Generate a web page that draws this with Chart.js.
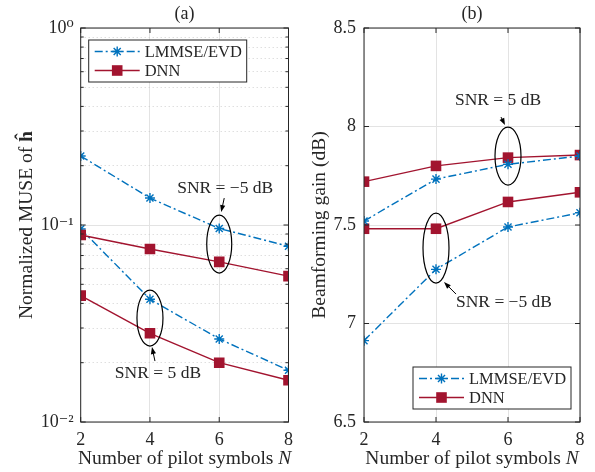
<!DOCTYPE html>
<html>
<head>
<meta charset="utf-8">
<script src="https://cdn.jsdelivr.net/npm/chart.js@4/dist/chart.umd.min.js"></script>
<style>
  body { margin: 0; background: #fff; width: 595px; height: 472px; position: relative; overflow: hidden; }
  canvas { position: absolute; top: 0; }
  #chartA { left: 0; }
  #chartB { left: 300px; }
</style>
</head>
<body>
<canvas id="chartA" width="300" height="472"></canvas>
<canvas id="chartB" width="295" height="472"></canvas>
<script>
"use strict";

// number of pilot symbols N
const pilots = [2, 4, 6, 8];

// (a) normalized MSE
const mseLmmseLow = [0.224, 0.137, 0.096, 0.078];   // SNR = -5 dB
const mseDnnLow = [0.089, 0.0755, 0.065, 0.055];
const mseLmmseHigh = [0.0955, 0.042, 0.0264, 0.0183]; // SNR = 5 dB
const mseDnnHigh = [0.0438, 0.0282, 0.02, 0.0163];

// (b) beamforming gain (dB)
const gainLmmseHigh = [7.52, 7.733, 7.808, 7.85];  // SNR = 5 dB
const gainDnnHigh = [7.72, 7.8, 7.842, 7.855];
const gainLmmseLow = [6.913, 7.275, 7.49, 7.562];  // SNR = -5 dB
const gainDnnLow = [7.481, 7.481, 7.617, 7.666];

const pilotTicks = [2, 4, 6, 8];
const mseMajorTicks = [0.01, 0.1, 1];
const mseMinorTicks = [0.02, 0.03, 0.04, 0.05, 0.06, 0.07, 0.08, 0.09,
                       0.2, 0.3, 0.4, 0.5, 0.6, 0.7, 0.8, 0.9];
const gainTicks = [6.5, 7, 7.5, 8, 8.5];

const BLUE = "#0072BD";
const RED = "#A2142F";
const INK = "#262626";
const GRID = "#e3e3e3";
const SERIF = "'Liberation Serif', 'DejaVu Serif', serif";
const font = { family: SERIF, size: 18 };
const LABEL = "19.5px " + SERIF;

function pts(values) {
  return pilots.map((n, i) => ({ x: n, y: values[i] }));
}

function lmmse(values) {
  return {
    label: "LMMSE/EVD",
    data: pts(values),
    borderColor: BLUE,
    backgroundColor: BLUE,
    borderWidth: 1.4,
    borderDash: [8, 3, 2, 3],
    pointStyle: "star",
    pointRadius: 5,
    pointBorderWidth: 1.4
  };
}

function dnn(values) {
  return {
    label: "DNN",
    data: pts(values),
    borderColor: RED,
    backgroundColor: RED,
    borderWidth: 1.4,
    pointStyle: "rect",
    pointRadius: 7.5,
    pointBorderWidth: 0
  };
}

const SUP = { "-": "\u207B", "0": "\u2070", "1": "\u00B9", "2": "\u00B2" };
function powLabel(v) {
  const e = String(Math.round(Math.log10(v)));
  return "10" + e.split("").map(c => SUP[c]).join("");
}

function drawParts(ctx, parts, x, y, rot) {
  ctx.save();
  ctx.translate(x, y);
  ctx.rotate(rot);
  ctx.fillStyle = INK;
  ctx.textBaseline = "middle";
  ctx.textAlign = "left";
  const widths = parts.map(p => {
    ctx.font = p.font;
    return ctx.measureText(p.text).width;
  });
  let cx = -widths.reduce((a, b) => a + b, 0) / 2;
  parts.forEach((p, i) => {
    ctx.font = p.font;
    ctx.fillText(p.text, cx, 0);
    cx += widths[i];
  });
  ctx.restore();
}

function arrow(ctx, x1, y1, x2, y2) {
  const ang = Math.atan2(y2 - y1, x2 - x1);
  ctx.beginPath();
  ctx.moveTo(x1, y1);
  ctx.lineTo(x2 - 5 * Math.cos(ang), y2 - 5 * Math.sin(ang));
  ctx.stroke();
  ctx.beginPath();
  ctx.moveTo(x2, y2);
  ctx.lineTo(x2 - 7 * Math.cos(ang) + 2.6 * Math.sin(ang), y2 - 7 * Math.sin(ang) - 2.6 * Math.cos(ang));
  ctx.lineTo(x2 - 7 * Math.cos(ang) - 2.6 * Math.sin(ang), y2 - 7 * Math.sin(ang) + 2.6 * Math.cos(ang));
  ctx.closePath();
  ctx.fill();
}

const decor = {
  id: "decor",
  afterDatasetsDraw(chart, args, o) {
    const ctx = chart.ctx;
    const a = chart.chartArea;
    const xs = chart.scales.x;
    const ys = chart.scales.y;
    ctx.save();
    ctx.strokeStyle = INK;
    ctx.lineWidth = 1;
    ctx.setLineDash([]);
    ctx.strokeRect(a.left, a.top, a.right - a.left, a.bottom - a.top);
    ctx.beginPath();
    xs.ticks.forEach(t => {
      const px = xs.getPixelForValue(t.value);
      ctx.moveTo(px, a.bottom); ctx.lineTo(px, a.bottom - 5);
      ctx.moveTo(px, a.top); ctx.lineTo(px, a.top + 5);
    });
    ys.ticks.forEach(t => {
      const py = ys.getPixelForValue(t.value);
      ctx.moveTo(a.left, py); ctx.lineTo(a.left + 5, py);
      ctx.moveTo(a.right, py); ctx.lineTo(a.right - 5, py);
    });
    if (chart.scales.yMinor) {
      chart.scales.yMinor.ticks.forEach(t => {
        const py = ys.getPixelForValue(t.value);
        ctx.moveTo(a.left, py); ctx.lineTo(a.left + 3, py);
        ctx.moveTo(a.right, py); ctx.lineTo(a.right - 3, py);
      });
    }
    ctx.stroke();
    ctx.restore();
  },
  afterDraw(chart, args, o) {
    const ctx = chart.ctx;
    const a = chart.chartArea;
    const xs = chart.scales.x;
    const ys = chart.scales.y;
    const mid = (a.left + a.right) / 2;

    // titles
    drawParts(ctx, [{ text: o.title, font: "18px " + SERIF }], mid, 14, 0);
    drawParts(ctx, [
      { text: "Number of pilot symbols ", font: LABEL },
      { text: "N", font: "italic " + LABEL }
    ], mid, 459, 0);
    drawParts(ctx, o.yTitle, o.yTitleX, (a.top + a.bottom) / 2, -Math.PI / 2);

    // annotations: ellipse, label and arrow
    ctx.save();
    ctx.strokeStyle = "#000";
    ctx.fillStyle = "#000";
    ctx.lineWidth = 1.2;
    o.notes.forEach(n => {
      const cx = xs.getPixelForValue(n.x);
      const cy = ys.getPixelForValue(n.y);
      ctx.beginPath();
      ctx.ellipse(cx, cy, n.rx, n.ry, 0, 0, Math.PI * 2);
      ctx.stroke();
      drawParts(ctx, [{ text: n.text, font: "17.5px " + SERIF }], cx + n.label[0], cy + n.label[1], 0);
      ctx.lineWidth = 1;
      arrow(ctx, cx + n.arrow[0], cy + n.arrow[1], cx + n.arrow[2], cy + n.arrow[3]);
      ctx.lineWidth = 1.2;
    });
    ctx.restore();

    // legend
    const seen = {};
    const entries = chart.data.datasets.filter(ds => {
      if (seen[ds.label]) return false;
      seen[ds.label] = true;
      return true;
    });
    const w = 158, h = 42;
    const lx = o.legendCorner === "tl" ? a.left + 8 : a.right - 9 - w;
    const ly = o.legendCorner === "tl" ? a.top + 12 : a.bottom - 13 - h;
    ctx.save();
    ctx.fillStyle = "#fff";
    ctx.fillRect(lx, ly, w, h);
    ctx.strokeStyle = INK;
    ctx.lineWidth = 1;
    ctx.strokeRect(lx, ly, w, h);
    entries.forEach((ds, i) => {
      const ry = ly + 11.5 + i * 19;
      ctx.strokeStyle = ds.borderColor;
      ctx.fillStyle = ds.backgroundColor;
      ctx.lineWidth = ds.borderWidth;
      ctx.setLineDash(ds.borderDash || []);
      ctx.beginPath();
      ctx.moveTo(lx + 6, ry);
      ctx.lineTo(lx + 51, ry);
      ctx.stroke();
      ctx.setLineDash([]);
      Chart.helpers.drawPoint(ctx, {
        pointStyle: ds.pointStyle,
        radius: ds.pointRadius,
        borderWidth: ds.pointBorderWidth,
        rotation: 0
      }, lx + 28.5, ry);
      ctx.fillStyle = INK;
      ctx.font = "16.5px " + SERIF;
      ctx.textBaseline = "middle";
      ctx.textAlign = "left";
      ctx.fillText(ds.label, lx + 56, ry + 1);
    });
    ctx.restore();
  }
};

function xScale() {
  return {
    type: "linear",
    min: 2,
    max: 8,
    afterBuildTicks: s => { s.ticks = pilotTicks.map(v => ({ value: v })); },
    afterFit: s => { s.height = 50; },
    grid: { color: GRID, drawTicks: false },
    border: { display: false },
    ticks: { font: font, color: INK, padding: 7 }
  };
}

const chartA = new Chart(document.getElementById("chartA"), {
  type: "line",
  data: {
    datasets: [lmmse(mseLmmseLow), dnn(mseDnnLow), lmmse(mseLmmseHigh), dnn(mseDnnHigh)]
  },
  options: {
    responsive: false,
    animation: false,
    layout: { padding: { top: 28, right: 4, left: 0, bottom: 0 } },
    scales: {
      x: xScale(),
      y: {
        type: "logarithmic",
        min: 0.01,
        max: 1,
        afterBuildTicks: s => { s.ticks = mseMajorTicks.map(v => ({ value: v })); },
        afterFit: s => { s.width = 80.7; },
        grid: { color: GRID, drawTicks: false },
        border: { display: false },
        ticks: { font: font, color: INK, padding: 7, callback: v => powLabel(v) }
      },
      yMinor: {
        type: "logarithmic",
        position: "right",
        min: 0.01,
        max: 1,
        afterBuildTicks: s => { s.ticks = mseMinorTicks.map(v => ({ value: v })); },
        afterFit: s => { s.width = 0; },
        grid: { color: "#c4c4c4", drawTicks: false, lineWidth: 0.8 },
        border: { display: false, dash: [1, 3] },
        ticks: { display: false }
      }
    },
    plugins: {
      legend: { display: false },
      tooltip: { enabled: false },
      decor: {
        title: "(a)",
        yTitleX: 27,
        yTitle: [
          { text: "Normalized MUSE of ", font: LABEL },
          { text: "\u0125", font: "bold " + LABEL }
        ],
        legendCorner: "tl",
        notes: [
          { x: 6, y: 0.080, rx: 12.5, ry: 29, text: "SNR = \u22125 dB", label: [6, -56], arrow: [5, -46, 2, -32] },
          { x: 4, y: 0.0337, rx: 13, ry: 28, text: "SNR = 5 dB", label: [8, 55], arrow: [5, 43, 2, 29] }
        ]
      }
    }
  },
  plugins: [decor]
});

const chartB = new Chart(document.getElementById("chartB"), {
  type: "line",
  data: {
    datasets: [lmmse(gainLmmseHigh), dnn(gainDnnHigh), lmmse(gainLmmseLow), dnn(gainDnnLow)]
  },
  options: {
    responsive: false,
    animation: false,
    layout: { padding: { top: 28, right: 15, left: 0, bottom: 0 } },
    scales: {
      x: xScale(),
      y: {
        type: "linear",
        min: 6.5,
        max: 8.5,
        afterBuildTicks: s => { s.ticks = gainTicks.map(v => ({ value: v })); },
        afterFit: s => { s.width = 64; },
        grid: { color: GRID, drawTicks: false },
        border: { display: false },
        ticks: { font: font, color: INK, padding: 8, callback: v => String(v) }
      }
    },
    plugins: {
      legend: { display: false },
      tooltip: { enabled: false },
      decor: {
        title: "(b)",
        yTitleX: 20,
        yTitle: [{ text: "Beamforming gain (dB)", font: LABEL }],
        legendCorner: "br",
        notes: [
          { x: 6, y: 7.85, rx: 13, ry: 29, text: "SNR = 5 dB", label: [-10, -56], arrow: [-7, -39, -3, -31] },
          { x: 4, y: 7.383, rx: 13, ry: 35, text: "SNR = \u22125 dB", label: [68, 54], arrow: [20, 46, 8, 34] }
        ]
      }
    }
  },
  plugins: [decor]
});
</script>
</body>
</html>
